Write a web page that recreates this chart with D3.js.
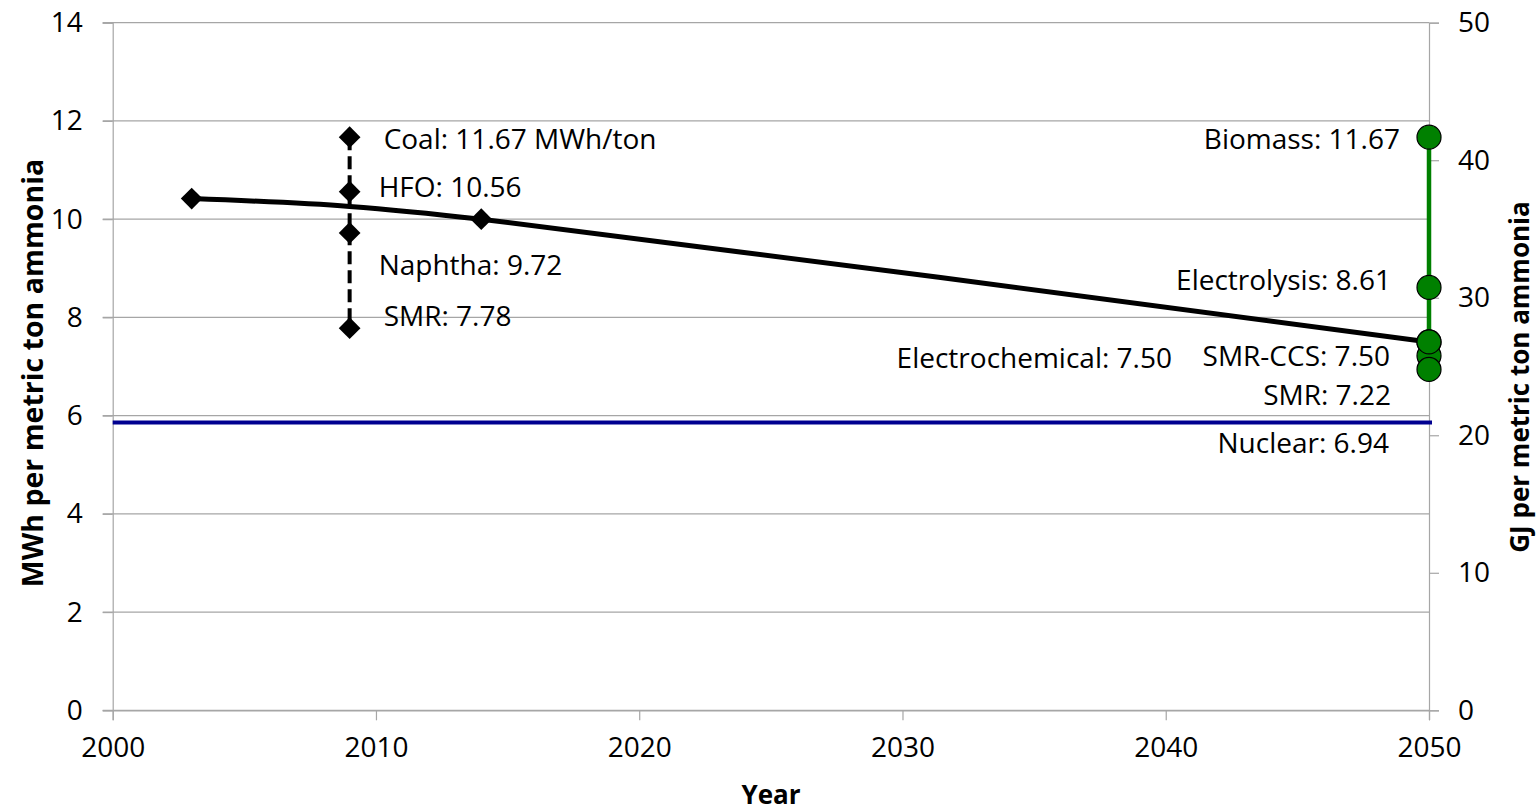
<!DOCTYPE html>
<html>
<head>
<meta charset="utf-8">
<script src="https://cdn.jsdelivr.net/npm/d3@7"></script>
<style>
  body { margin: 0; background: #fff; }
  text { font-family: "Open Sans", sans-serif; fill: #000; }
</style>
</head>
<body>
<script>
// data
var trendYears = [2003, 2009, 2014, 2050];
var trendValues = [10.42, 10.26, 10.0, 7.5];

var fossilYear = 2009;
var fossilNames = ["Coal", "HFO", "Naphtha", "SMR"];
var fossilValues = [11.67, 10.56, 9.72, 7.78];

var futureYear = 2050;
var futureNames = ["Biomass", "Electrolysis", "SMR-CCS", "SMR", "Nuclear"];
var futureValues = [11.67, 8.61, 7.50, 7.22, 6.94];

var electrochemValue = 7.50;
var nuclearLineValue = 5.86;

var xTicks = [2000, 2010, 2020, 2030, 2040, 2050];
var yTicks = [0, 2, 4, 6, 8, 10, 12, 14];
var y2Ticks = [0, 10, 20, 30, 40, 50];

var w = 1537, h = 810;
var mLeft = 112.7, mRight = 1429, mTop = 22.7, mBottom = 710.3;

var svg = d3.select("body").append("svg")
    .attr("width", w)
    .attr("height", h);

var x = d3.scaleLinear().domain([2000, 2050]).range([mLeft, mRight]);
var y = d3.scaleLinear().domain([0, 14]).range([mBottom, mTop]);
var y2 = d3.scaleLinear().domain([0, 50]).range([mBottom, mTop]);

var grey = "#a6a6a6";
var fs = 28;

// gridlines
svg.append("g").selectAll("line")
    .data(yTicks)
    .enter().append("line")
    .attr("x1", mLeft - 10).attr("x2", mRight)
    .attr("y1", function(d) { return y(d); })
    .attr("y2", function(d) { return y(d); })
    .attr("stroke", grey).attr("stroke-width", 1.2);

// left axis
var yAxis = svg.append("g").attr("transform", "translate(" + mLeft + ",0)")
    .call(d3.axisLeft(y).tickValues(yTicks).tickSize(10).tickPadding(20));
// bottom axis
var xAxis = svg.append("g").attr("transform", "translate(0," + mBottom + ")")
    .call(d3.axisBottom(x).tickValues(xTicks).tickFormat(d3.format("d")).tickSize(10).tickPadding(17));
// right axis
var y2Axis = svg.append("g").attr("transform", "translate(" + mRight + ",0)")
    .call(d3.axisRight(y2).tickValues(y2Ticks).tickSize(10).tickPadding(19));

[yAxis, xAxis, y2Axis].forEach(function(a) {
    a.select(".domain").attr("stroke", grey).attr("stroke-width", 1.2);
    a.selectAll(".tick line").attr("stroke", grey).attr("stroke-width", 1.2);
    a.selectAll(".tick text")
        .style("font-family", "'Open Sans', sans-serif")
        .style("font-size", fs + "px")
        .attr("fill", "#000");
});

// nuclear horizontal line
svg.append("line")
    .attr("x1", x(2000)).attr("x2", x(2050) + 3)
    .attr("y1", y(nuclearLineValue)).attr("y2", y(nuclearLineValue))
    .attr("stroke", "#000090").attr("stroke-width", 4);

// smoothed trend line
var trend = trendYears.map(function(d, i) { return [d, trendValues[i]]; });
var line = d3.line()
    .x(function(d) { return x(d[0]); })
    .y(function(d) { return y(d[1]); })
    .curve(d3.curveCatmullRom.alpha(0.5));
svg.append("path")
    .datum(trend)
    .attr("d", line)
    .attr("fill", "none")
    .attr("stroke", "#000")
    .attr("stroke-width", 5);

var diamond = d3.symbol().type(d3.symbolDiamond2).size(300);
svg.append("g").selectAll("path")
    .data([trend[0], trend[2]])
    .enter().append("path")
    .attr("d", diamond)
    .attr("transform", function(d) { return "translate(" + x(d[0]) + "," + y(d[1]) + ")"; })
    .attr("fill", "#000");

// fossil range at 2009 (dashed)
svg.append("line")
    .attr("x1", x(fossilYear)).attr("x2", x(fossilYear))
    .attr("y1", y(d3.max(fossilValues))).attr("y2", y(d3.min(fossilValues)))
    .attr("stroke", "#000").attr("stroke-width", 4)
    .attr("stroke-dasharray", "13,6");

svg.append("g").selectAll("path")
    .data(fossilValues)
    .enter().append("path")
    .attr("d", diamond)
    .attr("transform", function(d) { return "translate(" + x(fossilYear) + "," + y(d) + ")"; })
    .attr("fill", "#000");

// fossil labels: dx, dy offsets from the marker
var fossilOffsets = [[34, 2], [29, -4], [29, 32], [34, -12]];
svg.append("g").selectAll("text")
    .data(fossilValues)
    .enter().append("text")
    .attr("x", function(d, i) { return x(fossilYear) + fossilOffsets[i][0]; })
    .attr("y", function(d, i) { return y(d) + fossilOffsets[i][1]; })
    .attr("dy", "0.35em")
    .style("font-size", fs + "px")
    .text(function(d, i) {
        return fossilNames[i] + ": " + d3.format(".2f")(d) + (i == 0 ? " MWh/ton" : "");
    });

// future range at 2050 (green)
svg.append("line")
    .attr("x1", x(futureYear)).attr("x2", x(futureYear))
    .attr("y1", y(d3.max(futureValues))).attr("y2", y(d3.min(futureValues)))
    .attr("stroke", "#008000").attr("stroke-width", 4.5);

var circleValues = futureValues.slice(0, 3).concat([futureValues[3], electrochemValue, futureValues[4]]);
svg.append("g").selectAll("circle")
    .data(circleValues)
    .enter().append("circle")
    .attr("cx", x(futureYear))
    .attr("cy", function(d) { return y(d); })
    .attr("r", 12)
    .attr("fill", "#008000")
    .attr("stroke", "#000")
    .attr("stroke-width", 1.2);

var futureOffsets = [[-29, 2], [-38, -7], [-39, 14], [-38, 40], [-40, 74]];
svg.append("g").selectAll("text")
    .data(futureValues)
    .enter().append("text")
    .attr("x", function(d, i) { return x(futureYear) + futureOffsets[i][0]; })
    .attr("y", function(d, i) { return y(d) + futureOffsets[i][1]; })
    .attr("dy", "0.35em")
    .attr("text-anchor", "end")
    .style("font-size", fs + "px")
    .text(function(d, i) { return futureNames[i] + ": " + d3.format(".2f")(d); });

svg.append("text")
    .attr("x", 1172)
    .attr("y", y(electrochemValue) + 16)
    .attr("dy", "0.35em")
    .attr("text-anchor", "end")
    .style("font-size", fs + "px")
    .text("Electrochemical: " + d3.format(".2f")(electrochemValue));

// axis titles
svg.append("text")
    .attr("x", 771)
    .attr("y", 795)
    .attr("dy", "0.35em")
    .attr("text-anchor", "middle")
    .style("font-size", "26px")
    .style("font-weight", "bold")
    .text("Year");

svg.append("text")
    .attr("transform", "translate(33," + 373 + ") rotate(-90)")
    .attr("dy", "0.35em")
    .attr("text-anchor", "middle")
    .style("font-size", "28.5px")
    .style("font-weight", "bold")
    .text("MWh per metric ton ammonia");

svg.append("text")
    .attr("transform", "translate(1520," + 377 + ") rotate(-90)")
    .attr("dy", "0.35em")
    .attr("text-anchor", "middle")
    .style("font-size", "26px")
    .style("font-weight", "bold")
    .text("GJ per metric ton ammonia");
</script>
</body>
</html>
